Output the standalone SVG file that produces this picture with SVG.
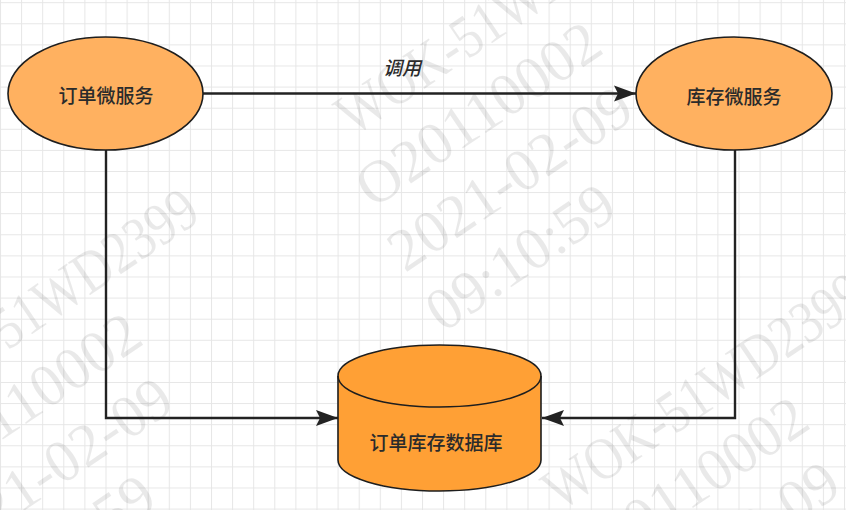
<svg xmlns="http://www.w3.org/2000/svg" xmlns:xlink="http://www.w3.org/1999/xlink" width="846" height="510" viewBox="0 0 846 510">
  <style>
    .lbl { font-family: "Noto Sans CJK SC", "Noto Sans", sans-serif; font-size: 19px; font-weight: 500; fill: #2b2b2b; text-anchor: middle; dominant-baseline: central; }
    .svc { fill: #FFB160; stroke: #1e1e1e; stroke-width: 1.6; }
    .db { fill: #FFA035; stroke: #1e1e1e; stroke-width: 1.6; }
    .conn { fill: none; stroke: #222222; stroke-width: 2.4; }
    .wm text { font-family: "Liberation Serif", "Times New Roman", serif; font-size: 60px; fill: #000000; fill-opacity: 0.085; }
  </style>
  <defs>
    <pattern id="grid" x="0" y="2.2" width="21.1" height="21.1" patternUnits="userSpaceOnUse">
      <path d="M0.5,0 V21.1 M0,0.5 H21.1" fill="none" stroke="#e6e6e6" stroke-width="1"/>
    </pattern>
    <marker id="arrow" markerWidth="24" markerHeight="18" refX="22" refY="9" orient="auto" markerUnits="userSpaceOnUse">
      <path d="M0,1 L22,9 L0,17 L4,9 Z" fill="#222222"/>
    </marker>
    <g id="wm-block" class="wm">
      <text x="0" y="0" textLength="374" lengthAdjust="spacingAndGlyphs">WOK-51WD2399</text>
      <text x="-24" y="71">O20110002</text>
      <text x="-33" y="142">2021-02-09</text>
      <text x="-35" y="213">09:10:59</text>
    </g>
  </defs>

  <rect x="0" y="0" width="846" height="510" fill="#ffffff"/>
  <rect x="0" y="0" width="846" height="510" fill="url(#grid)"/>

  <g id="watermark">
    <use xlink:href="#wm-block" href="#wm-block" transform="translate(353,137) rotate(-34)"/>
    <use xlink:href="#wm-block" href="#wm-block" transform="translate(-107,428) rotate(-34)"/>
    <use xlink:href="#wm-block" href="#wm-block" transform="translate(560,512) rotate(-34)"/>
  </g>

  <g id="connectors">
    <path class="conn" d="M203,93.5 H636" marker-end="url(#arrow)"/>
    <text x="402" y="66" class="lbl" font-style="italic">调用</text>
    <path class="conn" d="M106,150 V418 H338" marker-end="url(#arrow)"/>
    <path class="conn" d="M735,150 V418 H542" marker-end="url(#arrow)"/>
  </g>

  <g id="order-service">
    <ellipse class="svc" cx="105.5" cy="93.5" rx="97.5" ry="56.5"/>
    <text class="lbl" x="106" y="94">订单微服务</text>
  </g>

  <g id="inventory-service">
    <ellipse class="svc" cx="734" cy="93.5" rx="98" ry="56.5"/>
    <text class="lbl" x="734" y="95">库存微服务</text>
  </g>

  <g id="database">
    <path class="db" d="M338,376 A101.5,31 0 0 1 541,376 L541,460 A101.5,31 0 0 1 338,460 Z"/>
    <path class="db" d="M338,376 A101.5,31 0 0 0 541,376" style="fill:none"/>
    <text class="lbl" x="436" y="441">订单库存数据库</text>
  </g>
</svg>
